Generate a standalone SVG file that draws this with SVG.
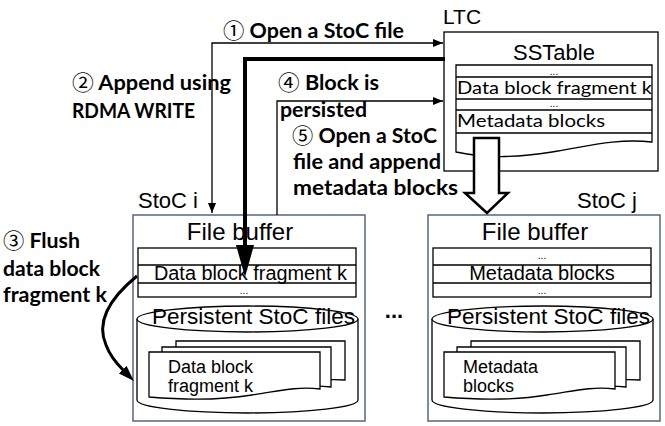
<svg xmlns="http://www.w3.org/2000/svg" width="665" height="426" viewBox="0 0 665 426">
<style>
.lbl{font-family:Lato,"Noto Sans",sans-serif;font-weight:bold;font-size:21px;fill:#000}
.num{font-family:"Noto Sans CJK JP","DejaVu Sans",sans-serif;font-weight:normal}
.ar{font-family:"Liberation Sans",Arial,sans-serif;fill:#000}
.cal{font-family:Lato,"Noto Sans",sans-serif;fill:#000}
.box{fill:#fff;stroke:#56667f;stroke-width:1.5}
.ln{fill:none;stroke:#000;stroke-width:1.3}
.sh{fill:#fff;stroke:#000;stroke-width:1.3}
.dots{font-family:"Liberation Sans",Arial,sans-serif;font-size:10px;text-anchor:middle}
</style>
<defs>
<marker id="arrThin" markerUnits="userSpaceOnUse" markerWidth="10" markerHeight="8" refX="10" refY="4" orient="auto-start-reverse"><path d="M0,0 L10,4 L0,8 z" fill="#000"/></marker>
<marker id="arrThick" markerUnits="userSpaceOnUse" markerWidth="32" markerHeight="18" refX="2" refY="9" orient="auto"><path d="M0,0 L32,9 L0,18 z" fill="#000"/></marker>
<marker id="arrCurve" markerUnits="userSpaceOnUse" markerWidth="16" markerHeight="11" refX="2" refY="5.5" orient="auto"><path d="M0,0 L16,5.5 L0,11 z" fill="#000"/></marker>
</defs>

<g id="ltc">
<text class="ar" x="443" y="24" font-size="21">LTC</text>
<rect x="444" y="32" width="214" height="139" fill="#fff" stroke="#000" stroke-width="1.3"/>
<text class="ar" x="554" y="60" font-size="22" text-anchor="middle">SSTable</text>
<path class="sh" d="M456,65 H652 V142 C 615,138 585,147 552,152 C 520,157 490,159 456,152 Z"/>
<path class="ln" d="M456,77 H652 M456,99 H652 M456,110 H652 M456,133 H652"/>
<text class="dots" x="554" y="74.5">...</text>
<text class="cal" x="457" y="94" font-size="18" textLength="195" lengthAdjust="spacingAndGlyphs">Data block fragment k</text>
<text class="dots" x="554" y="106.5">...</text>
<text class="cal" x="457" y="126.5" font-size="18" textLength="148" lengthAdjust="spacingAndGlyphs">Metadata blocks</text>
</g>

<g id="stoc-i">
<text class="ar" x="138" y="208" font-size="22">StoC i</text>
<rect class="box" x="133" y="215" width="232" height="206"/>
<text class="ar" x="240" y="240" font-size="24" text-anchor="middle">File buffer</text>
<rect class="sh" x="138" y="248" width="218" height="49"/>
<path class="ln" d="M138,265 H356 M138,283 H356"/>
<text class="ar" x="154" y="280" font-size="20" textLength="193" lengthAdjust="spacingAndGlyphs">Data block fragment k</text>
<text class="dots" x="244" y="294">...</text>
<path class="sh" d="M137,319 V400 A110.5,13 0 0 0 358,400 V319"/>
<ellipse class="sh" cx="247.5" cy="319" rx="110.5" ry="13"/>
<text class="ar" x="152" y="324" font-size="22" textLength="203" lengthAdjust="spacingAndGlyphs">Persistent StoC files</text>
<path class="sh" d="M176,341 H345 V380 C 320,378 300,383 280,386 C 260,389 230,390 176,386 Z"/>
<path class="sh" d="M162,347 H331 V387 C 306,384 286,389 266,392 C 246,395 216,396 162,392 Z"/>
<path class="sh" d="M149,352 H320 V389 C 295,386 275,392 252,395 C 228,399 196,401 149,397 Z"/>
<text class="ar" x="168" y="373" font-size="18">Data block</text>
<text class="ar" x="168" y="392" font-size="18">fragment k</text>
</g>

<g id="stoc-j">
<text class="ar" x="577" y="208" font-size="22">StoC j</text>
<rect class="box" x="428" y="215" width="232" height="206"/>
<text class="ar" x="535" y="240" font-size="24" text-anchor="middle">File buffer</text>
<rect class="sh" x="433" y="248" width="218" height="49"/>
<path class="ln" d="M433,265 H651 M433,283 H651"/>
<text class="dots" x="542" y="259">...</text>
<text class="ar" x="542" y="280" font-size="20" text-anchor="middle">Metadata blocks</text>
<text class="dots" x="542" y="294">...</text>
<path class="sh" d="M432,319 V400 A110.5,13 0 0 0 653,400 V319"/>
<ellipse class="sh" cx="542.5" cy="319" rx="110.5" ry="13"/>
<text class="ar" x="447" y="324" font-size="22" textLength="203" lengthAdjust="spacingAndGlyphs">Persistent StoC files</text>
<path class="sh" d="M471,341 H640 V380 C 615,378 595,383 575,386 C 555,389 525,390 471,386 Z"/>
<path class="sh" d="M457,347 H626 V387 C 601,384 581,389 561,392 C 541,395 511,396 457,392 Z"/>
<path class="sh" d="M444,352 H615 V389 C 590,386 570,392 547,395 C 523,399 491,401 444,397 Z"/>
<text class="ar" x="463" y="373" font-size="18">Metadata</text>
<text class="ar" x="463" y="392" font-size="18">blocks</text>
</g>

<g id="ellipsis">
<text x="394" y="318" font-family="Liberation Sans, Arial, sans-serif" font-size="22" font-weight="bold" text-anchor="middle">...</text>
</g>

<g id="connectors">
<path class="ln" d="M212,213 V43 H443" marker-start="url(#arrThin)" marker-end="url(#arrThin)"/>
<path d="M445,59 H245 V247" fill="none" stroke="#000" stroke-width="4" marker-end="url(#arrThick)"/>
<path class="ln" d="M277,215 V101 H443" marker-end="url(#arrThin)"/>
<path d="M137,276 C 110,298 96,322 106,345 C 110,356 117,364 124,371" fill="none" stroke="#000" stroke-width="3" marker-end="url(#arrCurve)"/>
<polygon points="474,138 499,138 499,193 508,193 487,213 465,193 474,193" fill="#fff" stroke="#000" stroke-width="2.5" stroke-linejoin="miter"/>
</g>

<g id="labels">
<text class="lbl" x="223" y="38" textLength="181" lengthAdjust="spacingAndGlyphs"><tspan class="num">①</tspan> Open a StoC file</text>
<text class="lbl" x="72" y="90" textLength="159" lengthAdjust="spacingAndGlyphs"><tspan class="num">②</tspan> Append using</text>
<text class="lbl" x="72" y="118" textLength="123" lengthAdjust="spacingAndGlyphs">RDMA WRITE</text>
<text class="lbl" x="278" y="90" textLength="101" lengthAdjust="spacingAndGlyphs"><tspan class="num">④</tspan> Block is</text>
<text class="lbl" x="280" y="117" textLength="87" lengthAdjust="spacingAndGlyphs">persisted</text>
<text class="lbl" x="292" y="143" textLength="145" lengthAdjust="spacingAndGlyphs"><tspan class="num">⑤</tspan> Open a StoC</text>
<text class="lbl" x="293" y="169" textLength="148" lengthAdjust="spacingAndGlyphs">file and append</text>
<text class="lbl" x="293" y="195" textLength="165" lengthAdjust="spacingAndGlyphs">metadata blocks</text>
<text class="lbl" x="3" y="248" textLength="77" lengthAdjust="spacingAndGlyphs"><tspan class="num">③</tspan> Flush</text>
<text class="lbl" x="3" y="276" textLength="97" lengthAdjust="spacingAndGlyphs">data block</text>
<text class="lbl" x="3" y="302" textLength="104" lengthAdjust="spacingAndGlyphs">fragment k</text>
</g>
</svg>
